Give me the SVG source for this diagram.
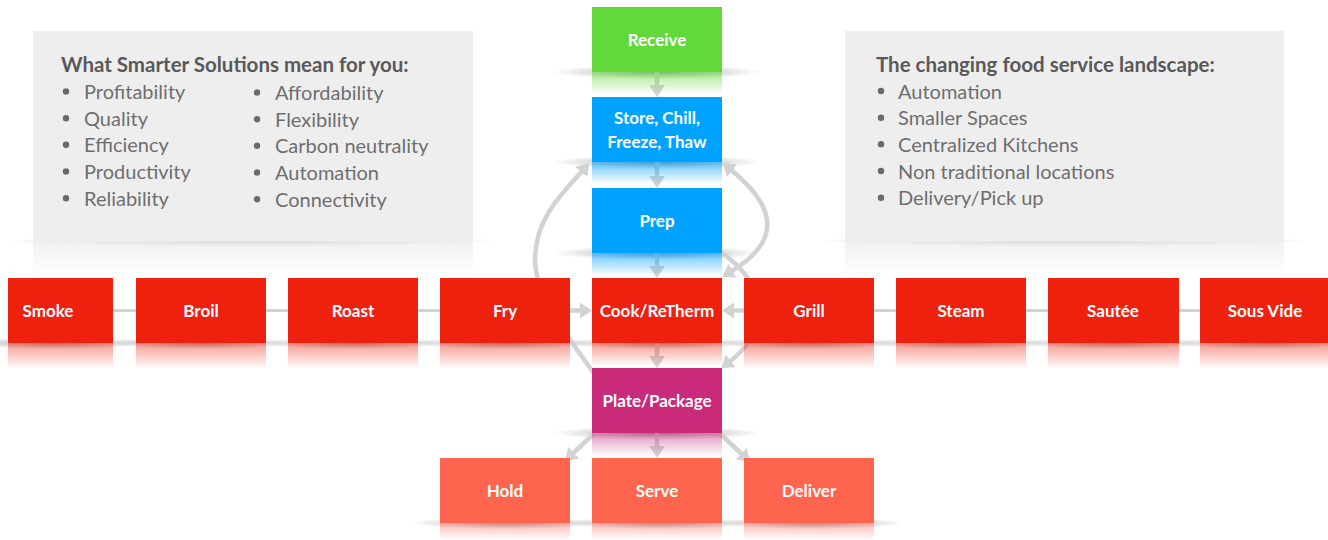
<svg xmlns="http://www.w3.org/2000/svg" width="1328" height="540" viewBox="0 0 1328 540">
<style>
.panel{fill:#eeeeee}
.ptitle{font-family:Lato,"Liberation Sans",sans-serif;font-weight:700;font-size:20.5px;fill:#595959}
.pitem{font-family:Lato,"Liberation Sans",sans-serif;font-weight:400;font-size:20px;fill:#6e6e6e}
.bul{fill:#6a6a6a}
.lbl{font-family:Lato,"Liberation Sans",sans-serif;font-weight:700;font-size:17px;fill:#ffffff;text-anchor:middle}
.green{fill:#62d93a}
.blue{fill:#00a2ff}
.red{fill:#ee200e}
.mag{fill:#c92a79}
.sal{fill:#ff644f}
.conn{fill:none;stroke:#d2d2d2;stroke-width:4.5}
.thin{fill:none;stroke:#d2d2d2;stroke-width:3}
</style>
<defs>
<radialGradient id="sh"><stop offset="0" stop-color="#000" stop-opacity="0.38"/><stop offset="0.6" stop-color="#000" stop-opacity="0.14"/><stop offset="1" stop-color="#000" stop-opacity="0"/></radialGradient>
<linearGradient id="rg" x1="0" y1="0" x2="0" y2="1"><stop offset="0" stop-color="#62d93a" stop-opacity="0.55"/><stop offset="1" stop-color="#62d93a" stop-opacity="0"/></linearGradient>
<linearGradient id="rb" x1="0" y1="0" x2="0" y2="1"><stop offset="0" stop-color="#00a2ff" stop-opacity="0.6"/><stop offset="1" stop-color="#00a2ff" stop-opacity="0"/></linearGradient>
<linearGradient id="rr" x1="0" y1="0" x2="0" y2="1"><stop offset="0" stop-color="#ee200e" stop-opacity="0.45"/><stop offset="1" stop-color="#ee200e" stop-opacity="0"/></linearGradient>
<linearGradient id="rm" x1="0" y1="0" x2="0" y2="1"><stop offset="0" stop-color="#c92a79" stop-opacity="0.5"/><stop offset="1" stop-color="#c92a79" stop-opacity="0"/></linearGradient>
<linearGradient id="rs" x1="0" y1="0" x2="0" y2="1"><stop offset="0" stop-color="#ff644f" stop-opacity="0.45"/><stop offset="1" stop-color="#ff644f" stop-opacity="0"/></linearGradient>
<linearGradient id="rp" x1="0" y1="0" x2="0" y2="1"><stop offset="0" stop-color="#eeeeee" stop-opacity="0.8"/><stop offset="1" stop-color="#eeeeee" stop-opacity="0"/></linearGradient>
<marker id="ah" viewBox="0 0 12 16" refX="4" refY="8" markerWidth="12" markerHeight="16" markerUnits="userSpaceOnUse" orient="auto-start-reverse"><path d="M0,0 L12,8 L0,16 z" fill="#d2d2d2"/></marker>
</defs>

<g id="shadows">
<ellipse cx="253" cy="241" rx="245" ry="6" fill="url(#sh)"/>
<ellipse cx="1064" cy="241" rx="245" ry="6" fill="url(#sh)"/>
<ellipse cx="657" cy="72" rx="105" ry="7" fill="url(#sh)"/>
<ellipse cx="657" cy="162" rx="105" ry="7" fill="url(#sh)"/>
<ellipse cx="657" cy="253" rx="105" ry="7" fill="url(#sh)"/>
<ellipse cx="55" cy="343" rx="95" ry="6" fill="url(#sh)"/>
<ellipse cx="201" cy="343" rx="95" ry="6" fill="url(#sh)"/>
<ellipse cx="353" cy="343" rx="95" ry="6" fill="url(#sh)"/>
<ellipse cx="505" cy="343" rx="95" ry="6" fill="url(#sh)"/>
<ellipse cx="657" cy="343" rx="95" ry="6" fill="url(#sh)"/>
<ellipse cx="809" cy="343" rx="95" ry="6" fill="url(#sh)"/>
<ellipse cx="961" cy="343" rx="95" ry="6" fill="url(#sh)"/>
<ellipse cx="1113" cy="343" rx="95" ry="6" fill="url(#sh)"/>
<ellipse cx="1265" cy="343" rx="95" ry="6" fill="url(#sh)"/>
<ellipse cx="657" cy="433" rx="105" ry="7" fill="url(#sh)"/>
<ellipse cx="505" cy="523" rx="95" ry="6" fill="url(#sh)"/>
<ellipse cx="657" cy="523" rx="95" ry="6" fill="url(#sh)"/>
<ellipse cx="809" cy="523" rx="95" ry="6" fill="url(#sh)"/>
</g>

<g id="panel-left">
<rect x="33" y="241" width="440" height="36" fill="url(#rp)"/>
<rect class="panel" x="33" y="31" width="440" height="210"/>
<text class="ptitle" x="61" y="72">What Smarter Solutions mean for you:</text>
<circle class="bul" cx="66" cy="91.5" r="3.2"/><text class="pitem" x="84" y="99">Profitability</text>
<circle class="bul" cx="66" cy="118.2" r="3.2"/><text class="pitem" x="84" y="125.7">Quality</text>
<circle class="bul" cx="66" cy="144.8" r="3.2"/><text class="pitem" x="84" y="152.3">Efficiency</text>
<circle class="bul" cx="66" cy="171.5" r="3.2"/><text class="pitem" x="84" y="179">Productivity</text>
<circle class="bul" cx="66" cy="198.2" r="3.2"/><text class="pitem" x="84" y="205.7">Reliability</text>
<circle class="bul" cx="257" cy="92.5" r="3.2"/><text class="pitem" x="275" y="100">Affordability</text>
<circle class="bul" cx="257" cy="119.2" r="3.2"/><text class="pitem" x="275" y="126.7">Flexibility</text>
<circle class="bul" cx="257" cy="145.8" r="3.2"/><text class="pitem" x="275" y="153.3">Carbon neutrality</text>
<circle class="bul" cx="257" cy="172.5" r="3.2"/><text class="pitem" x="275" y="180">Automation</text>
<circle class="bul" cx="257" cy="199.2" r="3.2"/><text class="pitem" x="275" y="206.7">Connectivity</text>
</g>

<g id="panel-right">
<rect x="845" y="241" width="439" height="36" fill="url(#rp)"/>
<rect class="panel" x="845" y="31" width="439" height="210"/>
<text class="ptitle" x="876" y="72">The changing food service landscape:</text>
<circle class="bul" cx="881" cy="91" r="3.2"/><text class="pitem" x="898" y="98.5">Automation</text>
<circle class="bul" cx="881" cy="117.7" r="3.2"/><text class="pitem" x="898" y="125.2">Smaller Spaces</text>
<circle class="bul" cx="881" cy="144.3" r="3.2"/><text class="pitem" x="898" y="151.8">Centralized Kitchens</text>
<circle class="bul" cx="881" cy="171" r="3.2"/><text class="pitem" x="898" y="178.5">Non traditional locations</text>
<circle class="bul" cx="881" cy="197.7" r="3.2"/><text class="pitem" x="898" y="205.2">Delivery/Pick up</text>
</g>

<g id="connectors">
<line class="thin" x1="60" y1="310.5" x2="570" y2="310.5"/>
<line class="thin" x1="744" y1="310.5" x2="1265" y2="310.5"/>
<path class="conn" d="M560,310.5 H584" marker-end="url(#ah)"/>
<path class="conn" d="M754,310.5 H730" marker-end="url(#ah)"/>
<path class="conn" d="M657,70 V89" marker-end="url(#ah)"/>
<path class="conn" d="M657,160 V180" marker-end="url(#ah)"/>
<path class="conn" d="M657,251 V270" marker-end="url(#ah)"/>
<path class="conn" d="M657,341 V360" marker-end="url(#ah)"/>
<path class="conn" d="M657,431 V450" marker-end="url(#ah)"/>
<path class="conn" d="M602,426 L570.8,455.5" marker-end="url(#ah)"/>
<path class="conn" d="M712,426 L744.2,456.5" marker-end="url(#ah)"/>
<path class="conn" d="M600,382 C580,352 535,300 535,260 C535,215 568,188 584,169" marker-end="url(#ah)"/>
<path class="conn" d="M729,168.2 C775,205 785,240 729,272.7" marker-start="url(#ah)" marker-end="url(#ah)"/>
<path class="conn" d="M716,249 C768,282 772,330 727.6,363.3" marker-end="url(#ah)"/>
</g>

<g id="receive"><rect x="592" y="72" width="130" height="22" fill="url(#rg)"/><rect class="green" x="592" y="7" width="130" height="65"/><text class="lbl" x="657" y="45.5">Receive</text></g>
<g id="store"><rect x="592" y="162" width="130" height="22" fill="url(#rb)"/><rect class="blue" x="592" y="97" width="130" height="65"/><text class="lbl" x="657" y="123.5">Store, Chill,</text><text class="lbl" x="657" y="148">Freeze, Thaw</text></g>
<g id="prep"><rect x="592" y="253" width="130" height="23" fill="url(#rb)"/><rect class="blue" x="592" y="188" width="130" height="65"/><text class="lbl" x="657" y="226.5">Prep</text></g>

<g id="smoke"><rect x="8" y="343" width="105" height="26" fill="url(#rr)"/><rect class="red" x="8" y="278" width="105" height="65"/><text class="lbl" x="48" y="316.5">Smoke</text></g>
<g id="broil"><rect x="136" y="343" width="130" height="26" fill="url(#rr)"/><rect class="red" x="136" y="278" width="130" height="65"/><text class="lbl" x="201" y="316.5">Broil</text></g>
<g id="roast"><rect x="288" y="343" width="130" height="26" fill="url(#rr)"/><rect class="red" x="288" y="278" width="130" height="65"/><text class="lbl" x="353" y="316.5">Roast</text></g>
<g id="fry"><rect x="440" y="343" width="130" height="26" fill="url(#rr)"/><rect class="red" x="440" y="278" width="130" height="65"/><text class="lbl" x="505" y="316.5">Fry</text></g>
<g id="cook"><rect x="592" y="343" width="130" height="23" fill="url(#rr)"/><rect class="red" x="592" y="278" width="130" height="65"/><text class="lbl" x="657" y="316.5">Cook/ReTherm</text></g>
<g id="grill"><rect x="744" y="343" width="130" height="26" fill="url(#rr)"/><rect class="red" x="744" y="278" width="130" height="65"/><text class="lbl" x="809" y="316.5">Grill</text></g>
<g id="steam"><rect x="896" y="343" width="130" height="26" fill="url(#rr)"/><rect class="red" x="896" y="278" width="130" height="65"/><text class="lbl" x="961" y="316.5">Steam</text></g>
<g id="sautee"><rect x="1048" y="343" width="131" height="26" fill="url(#rr)"/><rect class="red" x="1048" y="278" width="131" height="65"/><text class="lbl" x="1113" y="316.5">Sautée</text></g>
<g id="sousvide"><rect x="1200" y="343" width="128" height="26" fill="url(#rr)"/><rect class="red" x="1200" y="278" width="128" height="65"/><text class="lbl" x="1265" y="316.5">Sous Vide</text></g>

<g id="plate"><rect x="592" y="433" width="130" height="23" fill="url(#rm)"/><rect class="mag" x="592" y="368" width="130" height="65"/><text class="lbl" x="657" y="406.5">Plate/Package</text></g>

<g id="hold"><rect x="440" y="523" width="130" height="17" fill="url(#rs)"/><rect class="sal" x="440" y="458" width="130" height="65"/><text class="lbl" x="505" y="496.5">Hold</text></g>
<g id="serve"><rect x="592" y="523" width="130" height="17" fill="url(#rs)"/><rect class="sal" x="592" y="458" width="130" height="65"/><text class="lbl" x="657" y="496.5">Serve</text></g>
<g id="deliver"><rect x="744" y="523" width="130" height="17" fill="url(#rs)"/><rect class="sal" x="744" y="458" width="130" height="65"/><text class="lbl" x="809" y="496.5">Deliver</text></g>
</svg>
